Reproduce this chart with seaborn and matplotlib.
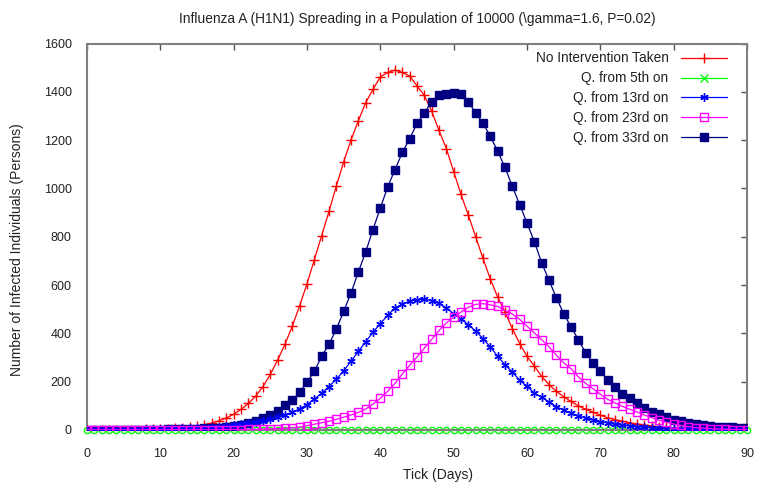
import numpy as np
import pandas as pd
import matplotlib
matplotlib.use("Agg")
import matplotlib.pyplot as plt
import seaborn as sns

ticks = list(range(0, 91))

no_intervention = [1, 1, 1, 1, 1, 2, 2, 2, 3, 3,
                   4, 5, 7, 9, 12, 16, 22, 29, 38, 50,
                   65, 85, 110, 140, 180, 230, 290, 355, 430, 515,
                   605, 705, 805, 905, 1010, 1110, 1200, 1280, 1355, 1410,
                   1462, 1480, 1490, 1480, 1465, 1425, 1385, 1320, 1240, 1165,
                   1070, 975, 890, 800, 710, 625, 550, 488, 420, 358,
                   305, 265, 222, 188, 160, 138, 118, 100, 86, 74,
                   61, 51, 43, 36, 30, 25, 21, 17, 14, 11,
                   9, 7, 6, 5, 4, 3, 2, 2, 1, 1, 1]

q_5th = [0] * 91

q_13rd = [1, 1, 1, 1, 1, 2, 2, 2, 3, 3,
          4, 5, 6, 7, 8, 9, 10, 12, 14, 17,
          20, 24, 28, 33, 38, 45, 53, 62, 74, 88,
          105, 128, 152, 180, 210, 245, 285, 325, 365, 405,
          440, 475, 505, 522, 534, 539, 541, 536, 524, 504,
          482, 460, 436, 410, 378, 344, 305, 270, 240, 206,
          181, 153, 135, 116, 97, 82, 70, 58, 50, 43,
          35, 29, 24, 20, 16, 13, 11, 9, 7, 6,
          5, 4, 3, 3, 2, 2, 1, 1, 1, 1, 1]

q_23rd = [1, 1, 1, 1, 1, 1, 1, 1, 1, 1,
          1, 1, 1, 1, 1, 1, 1, 1, 2, 2,
          2, 2, 3, 3, 4, 5, 6, 7, 9, 12,
          18, 24, 30, 36, 44, 53, 62, 73, 87, 107,
          131, 160, 193, 232, 268, 302, 339, 375, 412, 443,
          467, 488, 508, 520, 523, 518, 512, 495, 480, 458,
          430, 402, 374, 344, 310, 278, 254, 220, 193, 171,
          148, 127, 112, 98, 86, 75, 62, 51, 40, 32,
          25, 19, 14, 10, 8, 6, 4, 3, 2, 2, 1]

q_33rd = [1, 1, 1, 1, 1, 1, 1, 1, 2, 2,
          2, 3, 3, 4, 5, 6, 7, 8, 10, 12,
          16, 21, 27, 37, 50, 61, 77, 102, 123, 157,
          198, 243, 305, 355, 417, 491, 567, 654, 737, 830,
          919, 1006, 1078, 1149, 1206, 1269, 1313, 1358, 1386, 1390,
          1395, 1390, 1358, 1313, 1269, 1216, 1154, 1087, 1009, 933,
          857, 780, 692, 620, 548, 482, 427, 374, 319, 277,
          243, 206, 178, 151, 133, 112, 91, 75, 66, 54,
          43, 37, 30, 23, 19, 15, 12, 12, 11, 10, 9]

labels = ["No Intervention Taken", "Q. from 5th on", "Q. from 13rd on",
          "Q. from 23rd on", "Q. from 33rd on"]
series = [no_intervention, q_5th, q_13rd, q_23rd, q_33rd]

colors = ["#ff0000", "#00ff00", "#0000ff", "#ff00ff", "#000080"]
markers = ["+", "o", (6, 2, 0), "s", "s"]
msizes = [7.5, 4.5, 6, 6, 5.5]
mfcs = ["#ff0000", "none", "#0000ff", "none", "#000080"]
zorders = [3, 2, 4, 5, 3]
clips = [True, False, True, True, True]

sns.set_style("white")
plt.rcParams["font.family"] = ["Liberation Sans", "DejaVu Sans"]

fig = plt.figure(figsize=(7.59, 4.97), dpi=100)
ax = fig.add_axes([87 / 759, 1 - 430 / 497, (747 - 87) / 759, (430 - 43.5) / 497])

for lab, vals, c, m, ms, fc, z, cl in zip(labels, series, colors, markers, msizes, mfcs, zorders, clips):
    df = pd.DataFrame({"tick": ticks, "val": vals})
    sns.lineplot(data=df, x="tick", y="val", ax=ax, color=c, marker=m,
                 markersize=ms, markerfacecolor=fc, markeredgecolor=c,
                 markeredgewidth=1.0, linewidth=0.9, label=lab, zorder=z,
                 clip_on=cl)

ax.set_xlim(0, 90)
ax.set_ylim(0, 1600)
ax.set_xticks(range(0, 91, 10))
ax.set_yticks(range(0, 1601, 200))
ax.tick_params(axis="both", direction="in", length=4, width=1, colors="#555555",
               labelcolor="#222222", labelsize=9, top=True, right=True)
ax.tick_params(axis="x", pad=13)
ax.tick_params(axis="y", pad=11)
for s in ax.spines.values():
    s.set_color("#808080")
    s.set_linewidth(1.5)

ax.set_xlabel("Tick (Days)", fontsize=10, color="#222222")
ax.xaxis.set_label_coords((438 - 87) / 660, -(468 - 430) / 386.5)
ax.set_ylabel("Number of Infected Individuals (Persons)", fontsize=10, color="#222222")
ax.yaxis.set_label_coords((24 - 87) / 660, (430 - 250) / 386.5)
ax.set_title(r"Influenza A (H1N1) Spreading in a Population of 10000 (\gamma=1.6, P=0.02)",
             fontsize=9.9, color="#222222", pad=15)

leg = ax.legend(loc="upper right", frameon=False, markerfirst=False, fontsize=9.8,
                handlelength=3.4, handletextpad=0.88, labelspacing=0.43,
                bbox_to_anchor=(0.988, 1.011))
hs = leg.legend_handles
hs[1].set_marker("x")
hs[1].set_markersize(6)
for t in leg.get_texts():
    t.set_color("#222222")

fig.savefig("out.png", dpi=100)
